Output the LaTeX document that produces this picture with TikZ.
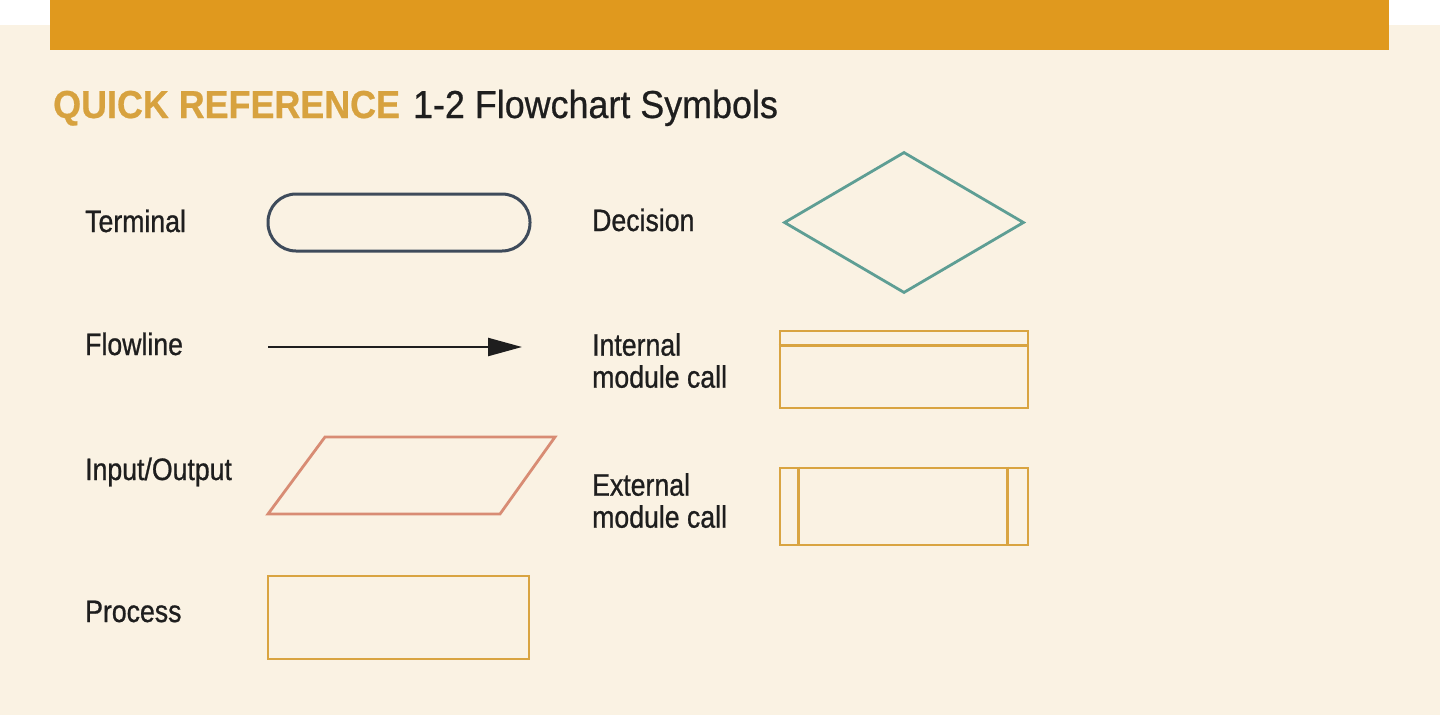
\documentclass[tikz,border=0pt]{standalone}
\usepackage{fontspec}
\setmainfont{Liberation Sans}[FakeStretch=0.86, FakeBold=0.8]
\newfontfamily\headfont{Liberation Sans}[FakeStretch=0.92, FakeBold=0.6]
\usepackage{xcolor}
\usetikzlibrary{arrows.meta, shapes.geometric}
\definecolor{barorange}{HTML}{E0991E}
\definecolor{cream}{HTML}{FAF2E3}
\definecolor{qrgold}{HTML}{D7A23F}
\definecolor{termslate}{HTML}{3E4B5B}
\definecolor{decteal}{HTML}{5E9E94}
\definecolor{iosalmon}{HTML}{D88C74}
\definecolor{boxgold}{HTML}{D9A441}
\definecolor{ink}{HTML}{1E1E1E}

\begin{document}
\begin{tikzpicture}[x=1pt, y=-1pt,
    symname/.style={anchor=base west, inner sep=0pt, text=ink, font=\fontsize{31}{32}\selectfont},
    symname2/.style={anchor=north west, inner sep=0pt, align=left, text=ink, font=\fontsize{31}{32}\selectfont},
    goldbox/.style={rectangle, draw=boxgold, line width=2.8pt, inner sep=0pt}]
                        % page, background and top bar
                        \useasboundingbox (0,0) rectangle (1440,715);
                        \fill[white] (0,0) rectangle (1440,715);
                        \fill[cream] (0,25) rectangle (1440,715);
                        \fill[barorange] (50,0) rectangle (1389,50);

                        \node[anchor=base west, inner sep=0pt, font=\headfont\fontsize{39}{40}\selectfont] (title) at (53,118)
                            {{\color{qrgold}\bfseries QUICK REFERENCE}\hspace{13pt}\color{ink}1-2 Flowchart Symbols};

                        % names
                        \node[symname] (terml) at (85,232) {Terminal};
                        \node[symname] (flowl) at (85,355) {Flowline};
                        \node[symname] (iol) at (85,480) {Input/Output};
                        \node[symname] (procl) at (85,622) {Process};
                        \node[symname] (decl) at (592,231) {Decision};
                        \node[symname2] (intl) at (592,333) {Internal\\module call};
                        \node[symname2] (extl) at (592,473) {External\\module call};

                        % symbols
                        \node[rectangle, rounded corners=28pt, draw=termslate, line width=3pt, minimum width=262pt, minimum height=57pt] (term) at (399,222.5) {};
                        \coordinate (flowA) at (268,347);
                        \coordinate (flowB) at (522,347);
                        \draw[ink, line width=2.3pt, -{Triangle[length=34pt, width=18pt]}] (flowA) -- (flowB);
                        \coordinate (ioA) at (268,514);
                        \coordinate (ioB) at (325,437);
                        \coordinate (ioC) at (555,437);
                        \coordinate (ioD) at (500,514);
                        \draw[iosalmon, line width=2.8pt] (ioA) -- (ioB) -- (ioC) -- (ioD) -- cycle;
                        \node[goldbox, minimum width=261pt, minimum height=83pt] (proc) at (398.5,617.5) {};
                        \node[diamond, draw=decteal, line width=2.8pt, inner sep=0pt, minimum width=240pt, minimum height=141pt] (dec) at (904,222.5) {};
                        \node[goldbox, minimum width=248pt, minimum height=77pt] (intcall) at (904,369.5) {};
                        \node[goldbox, minimum width=248pt, minimum height=77pt] (extcall) at (904,506.5) {};

                        \draw[boxgold, line width=2.8pt]
                        ([yshift=-16pt]intcall.north west) -- ([yshift=-16pt]intcall.north east)
                        ([xshift=20pt]extcall.north west) -- ([xshift=20pt]extcall.south west)
                        ([xshift=-22pt]extcall.north east) -- ([xshift=-22pt]extcall.south east);
                    \end{tikzpicture}
\end{document}
